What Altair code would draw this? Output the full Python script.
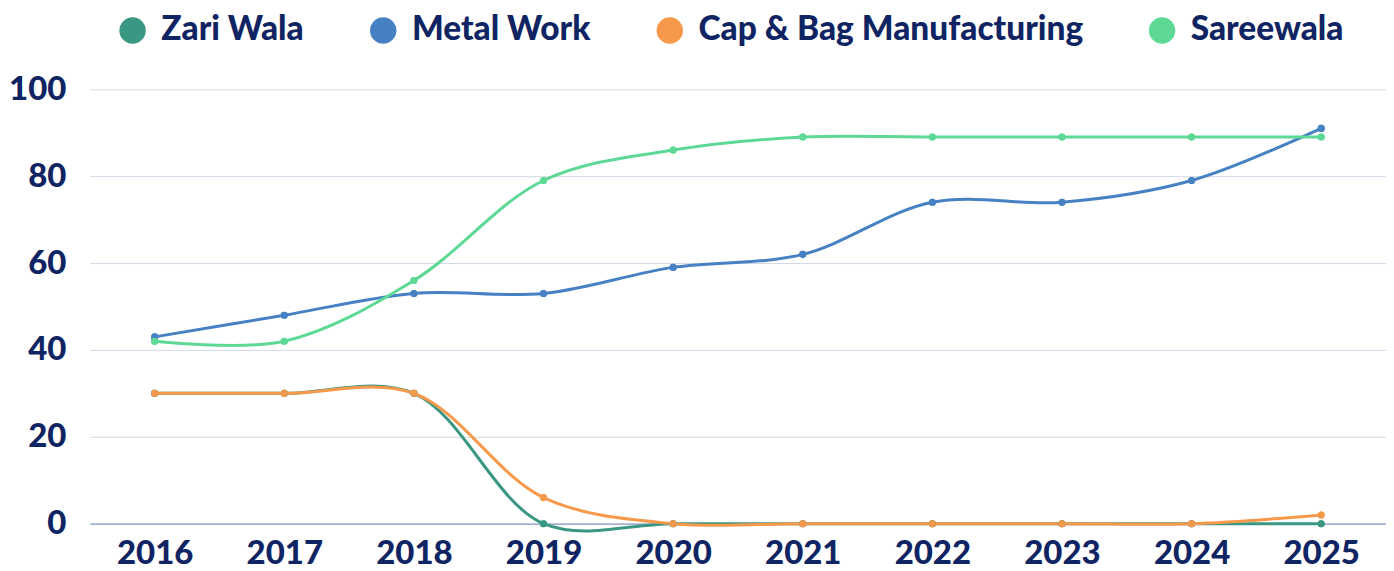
import altair as alt
import pandas as pd

years = ["2016", "2017", "2018", "2019", "2020", "2021", "2022", "2023", "2024", "2025"]
series_names = ["Zari Wala", "Metal Work", "Cap & Bag Manufacturing", "Sareewala"]
zari_wala = [30, 30, 30, 0, 0, 0, 0, 0, 0, 0]
metal_work = [43, 48, 53, 53, 59, 62, 74, 74, 79, 91]
cap_bag = [30, 30, 30, 6, 0, 0, 0, 0, 0, 2]
sareewala = [42, 42, 56, 79, 86, 89, 89, 89, 89, 89]
colors = ["#3a9783", "#4681c3", "#f7994b", "#5dd995"]

rows = []
for name, vals in zip(series_names, [zari_wala, metal_work, cap_bag, sareewala]):
    for y, v in zip(years, vals):
        rows.append({"Year": y, "Series": name, "Value": v})
df = pd.DataFrame(rows)

TEXT = "#0f2462"
FONT = "Lato Black, Lato Heavy, Lato"
WEIGHT = 900

x = alt.X("Year:O", sort=years, title=None,
          axis=alt.Axis(labelAngle=0, labelFontSize=33, labelFont=FONT, labelFontWeight=WEIGHT,
                        labelColor=TEXT, labelPadding=14, ticks=False, domain=True,
                        domainColor="#8b9cc4", domainWidth=1.2, grid=False))
y = alt.Y("Value:Q", title=None, scale=alt.Scale(domain=[0, 100]),
          axis=alt.Axis(values=[0, 20, 40, 60, 80, 100], labelFontSize=33, labelFont=FONT,
                        labelFontWeight=WEIGHT, labelColor=TEXT, labelPadding=24, ticks=False,
                        domain=False, grid=True, gridColor="#d3d8e6", gridWidth=1))
color_scale = alt.Scale(domain=series_names, range=colors)
legend = alt.Legend(title=None, orient="none", direction="horizontal",
                    legendX=26, legendY=-76, symbolType="circle",
                    symbolSize=700, symbolStrokeWidth=0, symbolOpacity=1,
                    labelFontSize=33.5, labelFont=FONT, labelFontWeight=WEIGHT,
                    labelColor=TEXT, labelOffset=12, columnPadding=62,
                    labelLimit=700)

points = alt.Chart(df).mark_point(filled=True, size=50, opacity=1).encode(
    x=x, y=y,
    color=alt.Color("Series:N", scale=color_scale, legend=legend),
)
lines = alt.Chart(df).mark_line(interpolate="catmull-rom", strokeWidth=3).encode(
    x=x, y=y,
    color=alt.Color("Series:N", scale=color_scale, legend=legend),
    detail="Series:N",
)

chart = alt.layer(points, lines, points).properties(
    width=1298, height=435,
    padding={"left": 0, "top": 5, "right": 0, "bottom": 0},
).configure_view(stroke=None)

chart.save("out.html", embed_options={"renderer": "svg", "actions": False})
